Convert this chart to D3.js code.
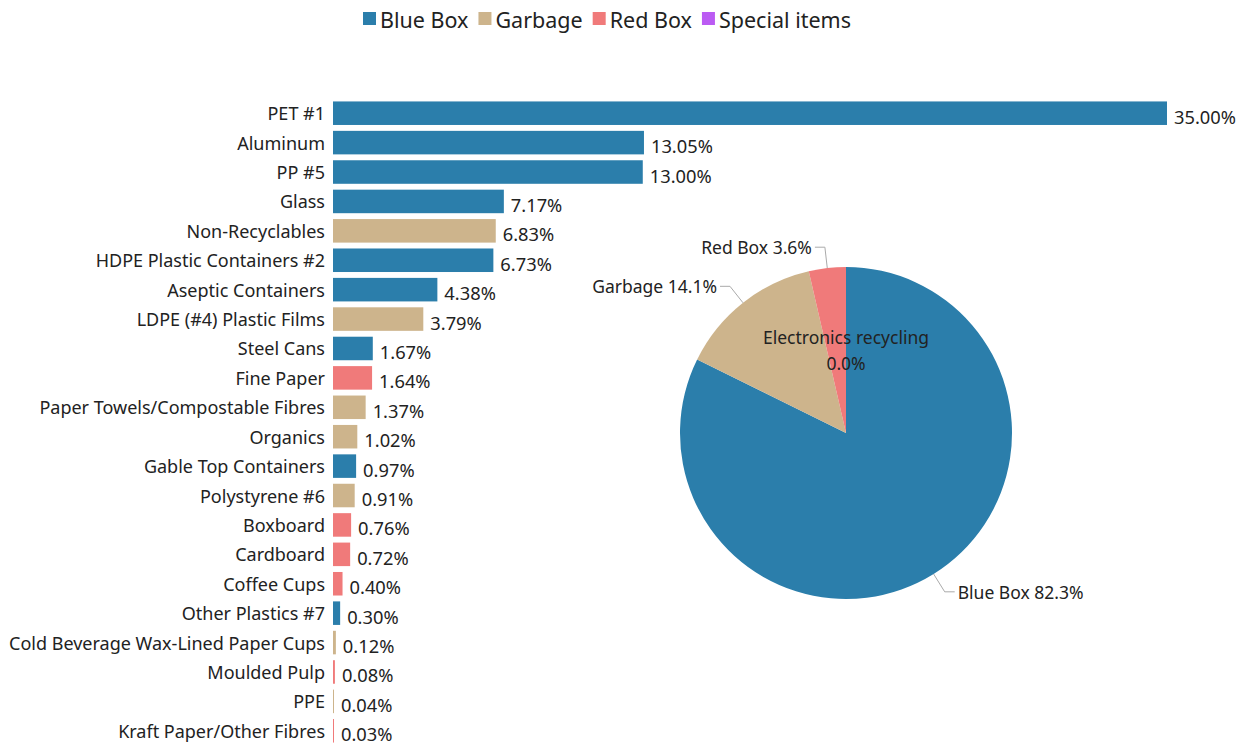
<!DOCTYPE html>
<html>
<head>
<meta charset="utf-8">
<script src="https://cdn.jsdelivr.net/npm/d3@7"></script>
<style>
  body { margin: 0; background: #fff; }
  svg { font-family: "Noto Sans", "Open Sans", sans-serif; }
</style>
</head>
<body>
<svg id="chart" width="1241" height="745"></svg>
<script>
// bar chart data
const categories = ["PET #1", "Aluminum", "PP #5", "Glass", "Non-Recyclables", "HDPE Plastic Containers #2",
  "Aseptic Containers", "LDPE (#4) Plastic Films", "Steel Cans", "Fine Paper", "Paper Towels/Compostable Fibres",
  "Organics", "Gable Top Containers", "Polystyrene #6", "Boxboard", "Cardboard", "Coffee Cups",
  "Other Plastics #7", "Cold Beverage Wax-Lined Paper Cups", "Moulded Pulp", "PPE", "Kraft Paper/Other Fibres"];
const values = [35.00, 13.05, 13.00, 7.17, 6.83, 6.73, 4.38, 3.79, 1.67, 1.64, 1.37,
  1.02, 0.97, 0.91, 0.76, 0.72, 0.40, 0.30, 0.12, 0.08, 0.04, 0.03];
const streams = ["Blue Box", "Blue Box", "Blue Box", "Blue Box", "Garbage", "Blue Box", "Blue Box", "Garbage",
  "Blue Box", "Red Box", "Garbage", "Garbage", "Blue Box", "Garbage", "Red Box", "Red Box", "Red Box",
  "Blue Box", "Garbage", "Red Box", "Garbage", "Red Box"];

// pie data
const pieGroups = ["Blue Box", "Garbage", "Red Box", "Electronics recycling"];
const pieValues = [82.3, 14.1, 3.6, 0.0];

const legendItems = ["Blue Box", "Garbage", "Red Box", "Special items"];
const colors = {
  "Blue Box": "#2b7eab",
  "Garbage": "#cdb48c",
  "Red Box": "#f07a7a",
  "Special items": "#bb5bf3",
  "Electronics recycling": "#bb5bf3"
};

const svg = d3.select("#chart");

// legend
const legend = svg.append("g");
let lx = 363;
legendItems.forEach(name => {
  legend.append("rect")
    .attr("x", lx).attr("y", 12).attr("width", 13).attr("height", 13)
    .attr("fill", colors[name]);
  const t = legend.append("text")
    .attr("x", lx + 17).attr("y", 19)
    .attr("dominant-baseline", "central")
    .attr("font-size", 21.5).attr("fill", "#222")
    .text(name);
  lx += 17 + t.node().getComputedTextLength() + 10;
});

// bars
const x = d3.scaleLinear().domain([0, 35]).range([333, 1167]);
const y = d3.scaleBand().domain(categories).range([98.5, 745.5]).paddingInner(0.2).paddingOuter(0.1);

const rows = svg.append("g").selectAll("g")
  .data(categories.map((c, i) => ({ name: c, value: values[i], stream: streams[i] })))
  .join("g");

rows.append("rect")
  .attr("x", x(0))
  .attr("y", d => y(d.name))
  .attr("width", d => Math.max(1, x(d.value) - x(0)))
  .attr("height", y.bandwidth())
  .attr("fill", d => colors[d.stream]);

rows.append("text")
  .attr("x", x(0) - 8)
  .attr("y", d => y(d.name) + y.bandwidth() / 2)
  .attr("text-anchor", "end")
  .attr("dominant-baseline", "central")
  .attr("font-size", 18).attr("fill", "#222")
  .text(d => d.name);

rows.append("text")
  .attr("y", d => y(d.name) + y.bandwidth() / 2 + 3)
  .attr("dominant-baseline", "central")
  .attr("font-size", 18.3).attr("fill", "#222")
  .text(d => d.value.toFixed(2) + "%")
  .attr("x", function(d) {
    const w = this.getComputedTextLength();
    return Math.min(Math.max(x(d.value), x(0) + 1) + 7, 1237 - w);
  });

// pie
const cx = 846, cy = 433, r = 166;
const pieData = d3.pie().sort(null).value(d => d.value)(
  pieGroups.map((g, i) => ({ name: g, value: pieValues[i] })));
const arc = d3.arc().innerRadius(0).outerRadius(r);
const pieG = svg.append("g").attr("transform", `translate(${cx},${cy})`);

pieG.selectAll("path")
  .data(pieData)
  .join("path")
  .attr("d", arc)
  .attr("fill", d => colors[d.data.name]);

pieData.forEach(d => {
  const a = (d.startAngle + d.endAngle) / 2;
  const label = d.data.name + " " + d.data.value.toFixed(1) + "%";
  if (d.data.value === 0) {
    const c = arc.centroid(d);
    pieG.append("text")
      .attr("x", c[0]).attr("y", c[1] - 13)
      .attr("text-anchor", "middle").attr("dominant-baseline", "central")
      .attr("font-size", 17.5).attr("fill", "#222")
      .text(d.data.name);
    pieG.append("text")
      .attr("x", c[0]).attr("y", c[1] + 13)
      .attr("text-anchor", "middle").attr("dominant-baseline", "central")
      .attr("font-size", 17.5).attr("fill", "#222")
      .text(d.data.value.toFixed(1) + "%");
    return;
  }
  const p0 = [Math.sin(a) * r, -Math.cos(a) * r];
  const p1 = [Math.sin(a) * (r + 21), -Math.cos(a) * (r + 21)];
  const side = Math.sin(a) >= 0 ? 1 : -1;
  const p2 = [p1[0] + side * 10, p1[1]];
  pieG.append("polyline")
    .attr("points", [p0, p1, p2].map(p => p.join(",")).join(" "))
    .attr("fill", "none").attr("stroke", "#aaa").attr("stroke-width", 1);
  pieG.append("text")
    .attr("x", p2[0] + side * 3).attr("y", p2[1])
    .attr("text-anchor", side > 0 ? "start" : "end")
    .attr("dominant-baseline", "central")
    .attr("font-size", 17.5).attr("fill", "#222")
    .text(label);
});
</script>
</body>
</html>
